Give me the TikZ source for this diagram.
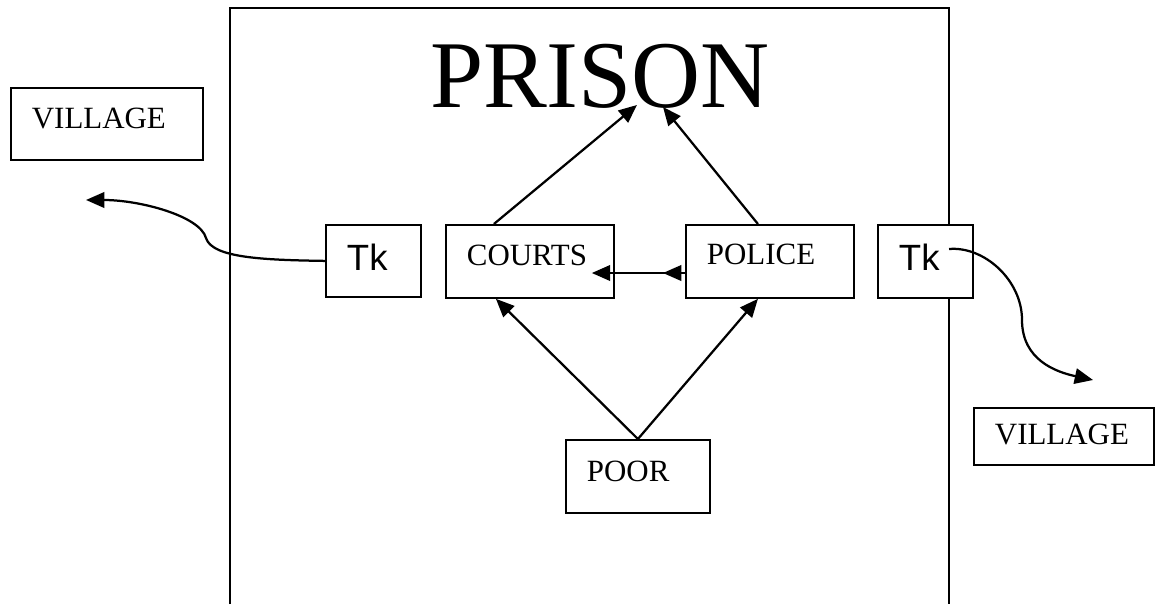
\documentclass[tikz,border=0pt]{standalone}
\usepackage{fontspec}
\setmainfont{Liberation Serif}
\newfontfamily\tkfont{Liberation Sans}
\usetikzlibrary{arrows.meta}

\begin{document}
\begin{tikzpicture}[box/.style = {draw, fill=white, line width=1.3pt, anchor=north west, inner xsep=0.525cm, inner ysep=0pt, align=left, font=\fontsize{22}{24}\selectfont},
  tkbox/.style = {box, font=\tkfont\fontsize{26}{28}\selectfont},
  arr/.style = {line width=1.6pt, -{Triangle[length=13pt,width=11pt]}}]
\useasboundingbox (0,0) rectangle (28.875,15.1);
\draw[line width=1.3pt] (5.75,0) -- (5.75,14.9) -- (23.725,14.9) -- (23.725,0);
\node[anchor=base, font=\fontsize{68}{70}\selectfont] (title) at (15,12.4) {PRISON};
\node[box, text width=3.75cm, text height=1.025cm, text depth=0.775cm] (villageL) at (0.25,12.925) {VILLAGE};
\node[tkbox, text width=1.325cm, text height=1.15cm, text depth=0.65cm] (tkL) at (8.125,9.5) {Tk};
\node[box, text width=3.15cm, text height=1.025cm, text depth=0.8cm] (courts) at (11.125,9.5) {COURTS};
\node[box, text width=3.15cm, text height=1.0cm, text depth=0.825cm] (police) at (17.125,9.5) {POLICE};
\node[tkbox, text width=1.325cm, text height=1.15cm, text depth=0.675cm] (tkR) at (21.925,9.5) {Tk};
\node[box, text width=2.55cm, text height=1.05cm, text depth=0.775cm] (poor) at (14.125,4.125) {POOR};
\node[box, text width=3.45cm, text height=0.925cm, text depth=0.5cm] (villageR) at (24.325,4.925) {VILLAGE};
\coordinate (outL) at (2.15,10.1);
\coordinate (outR) at (27.325,5.6);
\draw[arr] ([xshift=-0.9cm]courts.north) -- ([xshift=0.925cm,yshift=0.075cm]title.base);
\draw[arr] ([xshift=-0.3cm]police.north) -- ([xshift=1.575cm,yshift=0.025cm]title.base);
\draw[arr] (poor.north) -- ([xshift=-0.85cm]courts.south);
\draw[arr] (poor.north) -- ([xshift=-0.3cm]police.south);
\draw[arr] ([yshift=-0.29cm]police.west) -- ([xshift=-0.575cm,yshift=-0.29cm]courts.east);
\draw[arr] ([yshift=-0.29cm]police.west) -- ++(-0.55,0);
% roads out to the villages
\draw[arr] (tkL.west) .. controls (6.6,8.6) and (5.3,8.65) .. (5.15,9.15)
  .. controls (5.0,9.7) and (3.5,10.1) .. (outL);
\draw[arr] ([xshift=0.59cm,yshift=0.31cm]tkR.center) .. controls (24.6,8.95) and (25.55,8.1) .. (25.55,7.1)
  .. controls (25.55,6.1) and (26.4,5.8) .. (outR);
\end{tikzpicture}
\end{document}
